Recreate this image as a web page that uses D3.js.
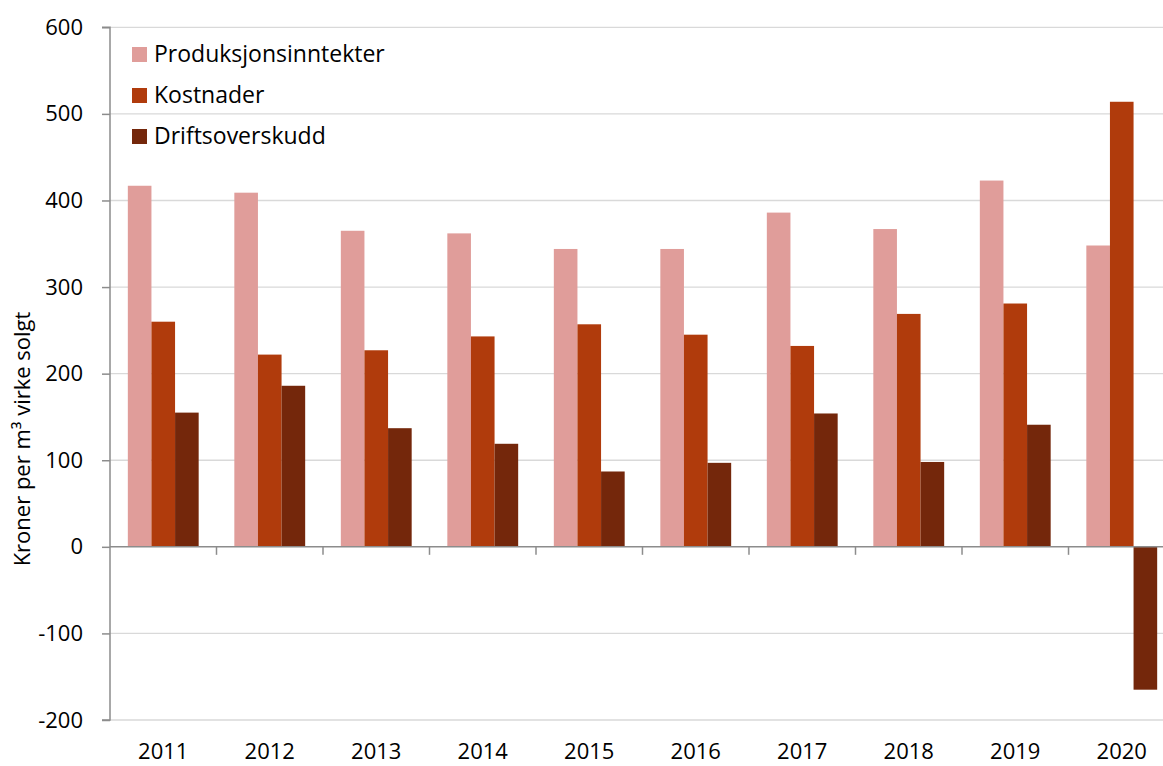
<!DOCTYPE html>
<html><head><meta charset="utf-8">
<script src="https://cdn.jsdelivr.net/npm/d3@7"></script>
<style>
body{margin:0;background:#fff;}
svg{display:block;font-family:"Open Sans",Lato,sans-serif;}
</style></head>
<body>
<svg id="chart" width="1163" height="766"></svg>
<script>
const years = ["2011","2012","2013","2014","2015","2016","2017","2018","2019","2020"];
const seriesNames = ["Produksjonsinntekter","Kostnader","Driftsoverskudd"];
const produksjonsinntekter = [417, 409, 365, 362, 344, 344, 386, 367, 423, 348];
const kostnader = [260, 222, 227, 243, 257, 245, 232, 269, 281, 514];
const driftsoverskudd = [155, 186, 137, 119, 87, 97, 154, 98, 141, -165];
const yTicks = [-200, -100, 0, 100, 200, 300, 400, 500, 600];
const colors = ["#e09d9a", "#b03b0c", "#74270b"];

(function(){
const seriesValues = [produksjonsinntekter, kostnader, driftsoverskudd];
const svg = d3.select("#chart");
const pLeft = 110, pRight = 1175, pTop = 27.3, pBottom = 720;
const FONT = "\"Open Sans\",Lato,sans-serif";

const x = d3.scaleBand().domain(years).range([pLeft, pRight]).paddingInner(0).paddingOuter(0);
const inner = d3.scaleBand().domain(seriesNames).range([0, x.bandwidth()]).paddingInner(0).paddingOuter(0.755);
const y = d3.scaleLinear().domain([-200, 600]).range([pBottom, pTop]);

svg.append("g").selectAll("line").data(yTicks.filter(t => t !== 0)).join("line")
  .attr("x1", pLeft).attr("x2", 1163)
  .attr("y1", d => y(d)).attr("y2", d => y(d))
  .attr("stroke", "#d9d9d9").attr("stroke-width", 1.3);

const groups = svg.append("g").selectAll("g").data(years).join("g")
  .attr("transform", d => `translate(${x(d)},0)`);
groups.selectAll("rect").data((d, i) => seriesNames.map((s, k) => ({s, k, v: seriesValues[k][i]}))).join("rect")
  .attr("x", d => inner(d.s))
  .attr("width", inner.bandwidth())
  .attr("y", d => y(Math.max(0, d.v)))
  .attr("height", d => Math.abs(y(d.v) - y(0)))
  .attr("fill", d => colors[d.k]);

const yAxis = d3.axisLeft(y).tickValues(yTicks).tickSize(8).tickPadding(19).tickFormat(d => String(d));
const gy = svg.append("g").attr("transform", `translate(${pLeft},0)`).call(yAxis);
gy.select(".domain").attr("stroke", "#8c8c8c").attr("stroke-width", 1.5).attr("d", `M-8,${pTop}H0V${pBottom}H-8`);
gy.selectAll(".tick line").attr("stroke", "#8c8c8c").attr("stroke-width", 1.5);
gy.selectAll(".tick text").attr("font-size", 22).attr("fill", "#000").attr("font-family", FONT);

const boundaries = years.slice(1).map(d => x(d));
const gx = svg.append("g");
gx.append("line").attr("x1", pLeft).attr("x2", 1163).attr("y1", y(0)).attr("y2", y(0))
  .attr("stroke", "#8c8c8c").attr("stroke-width", 1.5);
gx.selectAll("line.tk").data(boundaries).join("line").attr("class", "tk")
  .attr("x1", d => d).attr("x2", d => d).attr("y1", y(0)).attr("y2", y(0) + 8)
  .attr("stroke", "#8c8c8c").attr("stroke-width", 1.5);
svg.append("g").selectAll("text").data(years).join("text")
  .attr("x", d => x(d) + x.bandwidth() / 2)
  .attr("y", 759)
  .attr("text-anchor", "middle").attr("font-size", 22).attr("fill", "#000")
  .text(d => d);

svg.append("text")
  .attr("transform", "translate(30,439) rotate(-90)")
  .attr("text-anchor", "middle").attr("font-size", 22).attr("fill", "#000")
  .text("Kroner per m³ virke solgt");

const lg = svg.append("g").selectAll("g").data(seriesNames).join("g")
  .attr("transform", (d, i) => `translate(132,${62 + i * 41})`);
lg.append("rect").attr("x", 0).attr("y", -15).attr("width", 15).attr("height", 15)
  .attr("fill", (d, i) => colors[i]);
lg.append("text").attr("x", 22).attr("y", 0)
  .attr("font-size", 23).attr("fill", "#000").text(d => d);
})();
</script>
</body></html>
